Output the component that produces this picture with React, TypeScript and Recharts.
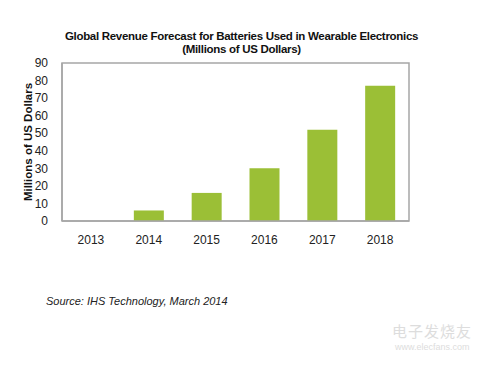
import React from "react";
import { Bar, BarChart, ReferenceArea, XAxis, YAxis } from "recharts";

const years = ["2013", "2014", "2015", "2016", "2017", "2018"];
const revenue = [0, 6, 16, 30, 52, 77];
const yTicks = [0, 10, 20, 30, 40, 50, 60, 70, 80, 90];

const data = years.map((year, i) => ({ year, revenue: revenue[i] }));

const font = "'Liberation Sans', Arial, sans-serif";

export default function App() {
  return (
    <div
      style={{
        position: "absolute",
        left: 0,
        top: 0,
        width: 500,
        height: 368,
        background: "#fff",
        fontFamily: font,
      }}
    >
      <div
        style={{
          position: "absolute",
          left: 0,
          width: 483,
          top: 30,
          textAlign: "center",
          fontSize: 11.5,
          fontWeight: "bold",
          lineHeight: "13px",
          color: "#111",
          letterSpacing: -0.3,
        }}
      >
        Global Revenue Forecast for Batteries Used in Wearable Electronics
        <br />
        (Millions of US Dollars)
      </div>
      <BarChart
        width={500}
        height={368}
        data={data}
        margin={{ top: 63, right: 91, bottom: 117, left: 32 }}
        barSize={30}
      >
        <ReferenceArea
          y1={0}
          y2={90}
          fill="none"
          stroke="#a6a6a6"
          strokeWidth={1.5}
        />
        <XAxis
          dataKey="year"
          height={30}
          tickLine={false}
          axisLine={{ stroke: "#a6a6a6", strokeWidth: 1.5 }}
          tick={{ fill: "#222", fontSize: 12, fontFamily: font }}
          tickMargin={8}
        />
        <YAxis
          width={30}
          domain={[0, 90]}
          ticks={yTicks}
          interval={0}
          tickLine={false}
          axisLine={{ stroke: "#a6a6a6", strokeWidth: 1.5 }}
          tick={{ fill: "#222", fontSize: 12, fontFamily: font }}
          tickMargin={8}
        />
        <Bar dataKey="revenue" fill="#9bbf36" isAnimationActive={false} />
        <text
          x={28}
          y={142}
          transform="rotate(-90 28 142)"
          textAnchor="middle"
          dominantBaseline="central"
          fontSize={11.5}
          fontWeight="bold"
          fontFamily={font}
          fill="#111"
        >
          Millions of US Dollars
        </text>
      </BarChart>
      <div
        style={{
          position: "absolute",
          left: 46,
          top: 295,
          fontSize: 11,
          fontStyle: "italic",
          color: "#222",
        }}
      >
        Source: IHS Technology, March 2014
      </div>
      <div
        style={{
          position: "absolute",
          left: 392,
          top: 320,
          fontSize: 15,
          color: "#ddd",
          fontFamily: "'Noto Sans CJK SC', sans-serif",
          letterSpacing: 1,
        }}
      >
        电子发烧友
      </div>
      <div
        style={{
          position: "absolute",
          left: 395,
          top: 342,
          fontSize: 9,
          color: "#ddd",
        }}
      >
        www.elecfans.com
      </div>
    </div>
  );
}
